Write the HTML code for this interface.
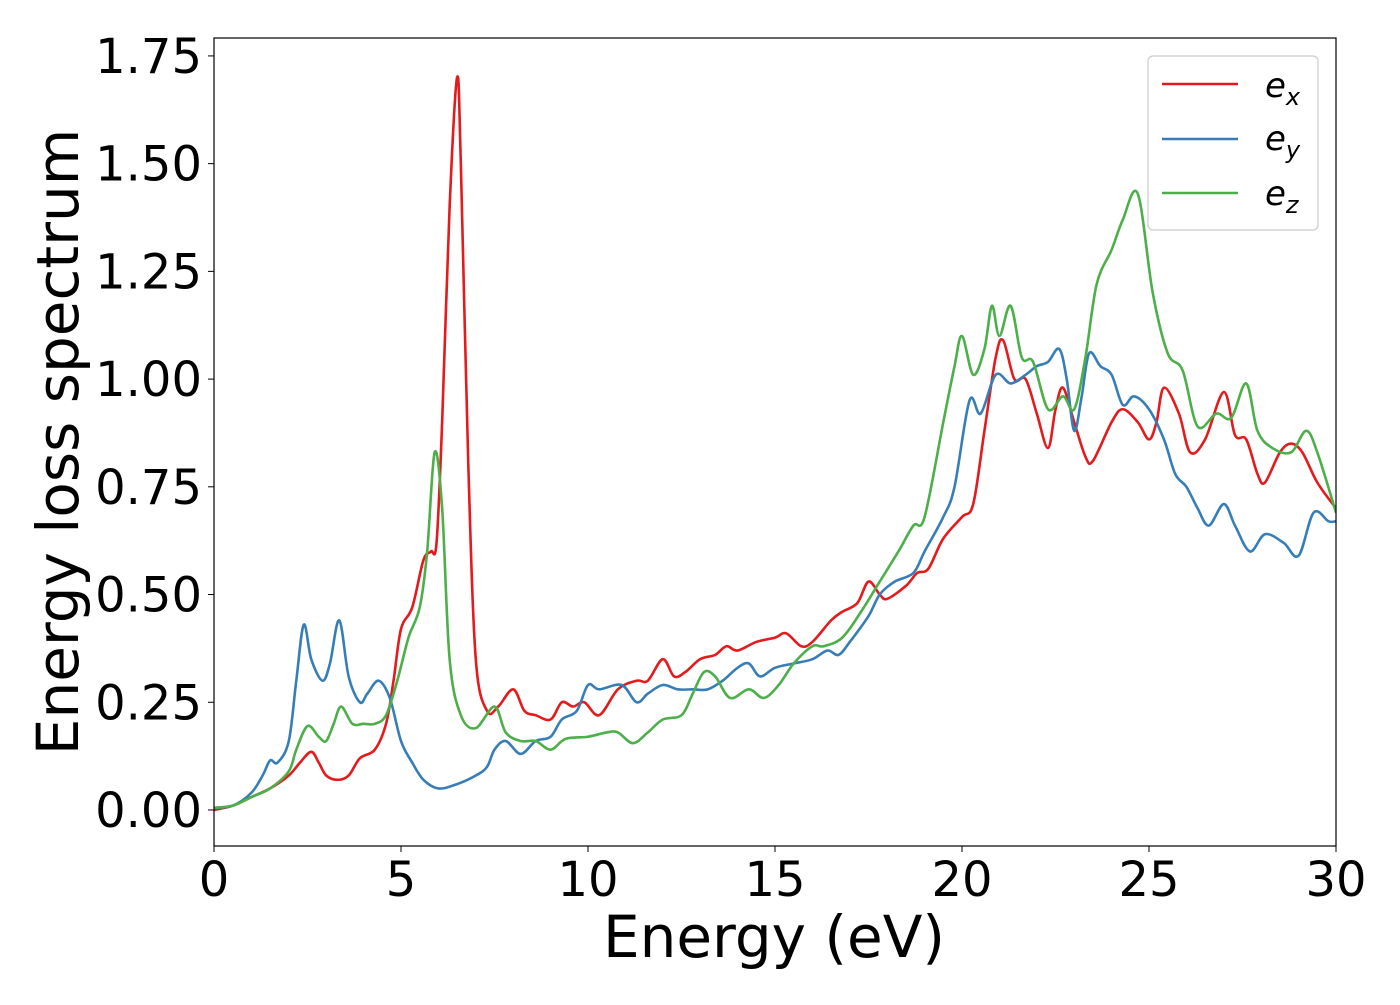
<!DOCTYPE html>
<html><head><meta charset="utf-8"><style>
body{margin:0;background:#fff;}
svg text{font-family:"DejaVu Sans","Liberation Sans",sans-serif;fill:#000;}
</style></head><body>
<svg id="chart" width="1400" height="1000" viewBox="0 0 1400 1000" xmlns="http://www.w3.org/2000/svg">
<rect x="0" y="0" width="1400" height="1000" fill="#fff"/>
<g id="plot"></g>
<g id="axes"></g>
<text x="774" y="957" font-size="58" text-anchor="middle">Energy (eV)</text>
<text transform="translate(78,442) rotate(-90)" font-size="58" text-anchor="middle">Energy loss spectrum</text>
<g>
<rect x="1148" y="56" width="170" height="174" rx="5" fill="#fff" stroke="#ccc" stroke-width="1.2"/>
<line x1="1162" y1="84" x2="1238" y2="84" stroke="#e41a1c" stroke-width="2.6"/>
<text x="1265" y="97" font-size="34" font-style="italic">e<tspan font-size="24" dy="8">x</tspan></text>
<line x1="1162" y1="139" x2="1238" y2="139" stroke="#377eb8" stroke-width="2.6"/>
<text x="1265" y="150" font-size="34" font-style="italic">e<tspan font-size="24" dy="8">y</tspan></text>
<line x1="1162" y1="193" x2="1238" y2="193" stroke="#4daf4a" stroke-width="2.6"/>
<text x="1265" y="205" font-size="34" font-style="italic">e<tspan font-size="24" dy="8">z</tspan></text>
</g>
</svg>
<script>
const exX=[0,0.5,1,1.5,2,2.3,2.6,2.8,3.0,3.3,3.6,3.9,4.3,4.6,4.8,5.0,5.3,5.6,5.8,5.95,6.1,6.3,6.5,6.6,6.8,7.0,7.3,7.6,8.0,8.3,8.6,9.0,9.3,9.6,9.9,10.3,10.8,11.3,11.6,12.0,12.3,12.6,13.0,13.4,13.7,14.0,14.5,15.0,15.3,15.7,16.0,16.5,16.8,17.2,17.5,17.8,18.0,18.5,18.8,19.1,19.5,20.0,20.3,20.6,20.9,21.1,21.4,21.7,22.0,22.3,22.5,22.7,23.0,23.3,23.5,24.0,24.3,24.7,25.0,25.2,25.4,25.8,26.1,26.5,27.0,27.3,27.6,27.9,28.1,28.5,28.8,29.1,29.5,30];
const exY=[0,0.01,0.03,0.05,0.08,0.11,0.135,0.11,0.08,0.07,0.08,0.12,0.14,0.2,0.3,0.42,0.47,0.58,0.6,0.62,0.9,1.4,1.70,1.5,0.8,0.35,0.23,0.24,0.28,0.23,0.22,0.21,0.25,0.24,0.25,0.22,0.28,0.30,0.30,0.35,0.31,0.32,0.35,0.36,0.38,0.37,0.39,0.40,0.41,0.38,0.39,0.44,0.46,0.48,0.53,0.50,0.49,0.52,0.55,0.56,0.63,0.68,0.71,0.88,1.05,1.09,1.00,1.00,0.92,0.84,0.93,0.98,0.90,0.82,0.81,0.90,0.93,0.90,0.86,0.90,0.98,0.92,0.83,0.86,0.97,0.87,0.86,0.78,0.76,0.83,0.85,0.83,0.76,0.70];
const eyX=[0,0.5,1,1.3,1.5,1.7,2.0,2.2,2.4,2.6,2.9,3.1,3.35,3.6,3.9,4.1,4.4,4.7,5.0,5.3,5.6,6.0,6.5,7.0,7.3,7.5,7.8,8.2,8.6,9.0,9.3,9.7,10.0,10.3,10.9,11.3,11.6,12.0,12.4,12.8,13.2,13.6,14.0,14.3,14.6,15.0,15.5,16.0,16.4,16.7,17.0,17.5,17.8,18.2,18.7,19.0,19.5,19.8,20.2,20.5,20.9,21.3,21.7,22.0,22.3,22.6,22.8,23.0,23.2,23.4,23.7,24.0,24.3,24.6,25.0,25.4,25.7,26.0,26.3,26.6,27.0,27.3,27.7,28.1,28.6,29.0,29.4,29.8,30];
const eyY=[0.005,0.01,0.04,0.08,0.115,0.11,0.16,0.30,0.43,0.35,0.30,0.34,0.44,0.31,0.25,0.27,0.30,0.26,0.16,0.11,0.07,0.05,0.06,0.08,0.1,0.14,0.16,0.13,0.16,0.17,0.21,0.23,0.29,0.28,0.29,0.25,0.27,0.29,0.28,0.28,0.28,0.30,0.33,0.34,0.31,0.33,0.34,0.35,0.37,0.36,0.39,0.45,0.50,0.53,0.55,0.60,0.68,0.75,0.95,0.92,1.01,0.99,1.01,1.03,1.04,1.07,1.00,0.88,0.96,1.06,1.03,1.01,0.94,0.96,0.93,0.86,0.78,0.75,0.70,0.66,0.71,0.66,0.60,0.64,0.62,0.59,0.69,0.67,0.67];
const ezX=[0,0.5,1,1.5,2,2.2,2.5,2.8,3.0,3.2,3.4,3.7,4.0,4.3,4.6,4.9,5.2,5.5,5.7,5.9,6.1,6.3,6.6,7.0,7.5,7.8,8.2,8.6,9.0,9.4,10.0,10.5,10.8,11.2,11.6,12.0,12.5,12.8,13.1,13.4,13.8,14.3,14.7,15.1,15.5,16.0,16.3,16.8,17.3,17.8,18.3,18.7,19.0,19.5,19.8,20.0,20.3,20.6,20.8,21.0,21.3,21.6,21.9,22.3,22.7,23.0,23.3,23.6,24.0,24.3,24.7,25.1,25.5,25.9,26.3,26.8,27.2,27.6,27.9,28.3,28.8,29.2,29.5,30];
const ezY=[0.005,0.01,0.03,0.05,0.09,0.14,0.195,0.17,0.16,0.20,0.24,0.20,0.20,0.20,0.22,0.30,0.40,0.47,0.6,0.83,0.70,0.35,0.22,0.19,0.24,0.18,0.16,0.16,0.14,0.165,0.17,0.18,0.18,0.155,0.18,0.21,0.22,0.27,0.32,0.31,0.26,0.28,0.26,0.29,0.34,0.38,0.38,0.40,0.46,0.53,0.60,0.66,0.68,0.90,1.03,1.10,1.01,1.07,1.17,1.10,1.17,1.05,1.04,0.93,0.96,0.93,1.05,1.22,1.30,1.37,1.43,1.20,1.06,1.02,0.89,0.92,0.91,0.99,0.88,0.84,0.83,0.88,0.83,0.69];
const xTicks=[0,5,10,15,20,25,30];
const yTicks=[0,0.25,0.5,0.75,1.0,1.25,1.5,1.75];
const yTickLabels=["0.00","0.25","0.50","0.75","1.00","1.25","1.50","1.75"];

const L=214,R=1336,T=38,B=846,xmin=0,xmax=30,ymin=-0.0836,ymax=1.7916;
const sx=v=>L+(v-xmin)/(xmax-xmin)*(R-L);
const sy=v=>B-(v-ymin)/(ymax-ymin)*(B-T);
const NS="http://www.w3.org/2000/svg";
const plot=document.getElementById('plot'),axes=document.getElementById('axes');
function pathFor(xs,ys){
  const p=xs.map((x,i)=>[sx(x),sy(ys[i])]);
  let d="M"+p[0][0]+","+p[0][1];
  for(let i=0;i<p.length-1;i++){
    const p0=p[i-1]||p[i],p1=p[i],p2=p[i+1],p3=p[i+2]||p2;
    const c1=[p1[0]+(p2[0]-p0[0])/6,p1[1]+(p2[1]-p0[1])/6];
    const c2=[p2[0]-(p3[0]-p1[0])/6,p2[1]-(p3[1]-p1[1])/6];
    d+=" C"+c1[0]+","+c1[1]+" "+c2[0]+","+c2[1]+" "+p2[0]+","+p2[1];
  }
  return d;
}
const cp=document.createElementNS(NS,'clipPath');cp.id='clip';
const cr=document.createElementNS(NS,'rect');cr.setAttribute('x',L);cr.setAttribute('y',T);cr.setAttribute('width',R-L);cr.setAttribute('height',B-T);
cp.appendChild(cr);document.getElementById('chart').appendChild(cp);
[[exX,exY,'#e41a1c','series-ex'],[eyX,eyY,'#377eb8','series-ey'],[ezX,ezY,'#4daf4a','series-ez']].forEach(s=>{
  const el=document.createElementNS(NS,'path');
  el.setAttribute('d',pathFor(s[0],s[1]));
  el.setAttribute('fill','none');el.setAttribute('stroke',s[2]);el.setAttribute('stroke-width','2.6');
  el.setAttribute('clip-path','url(#clip)');
  
  
  plot.appendChild(el);
});
const fr=document.createElementNS(NS,'rect');
fr.setAttribute('x',L);fr.setAttribute('y',T);fr.setAttribute('width',R-L);fr.setAttribute('height',B-T);
fr.setAttribute('fill','none');fr.setAttribute('stroke','#000');fr.setAttribute('stroke-width','1.2');


axes.appendChild(fr);
xTicks.forEach(v=>{
  const ln=document.createElementNS(NS,'line');
  ln.setAttribute('x1',sx(v));ln.setAttribute('x2',sx(v));ln.setAttribute('y1',B);ln.setAttribute('y2',B+6);ln.setAttribute('stroke','#000');
  
  
  axes.appendChild(ln);
  const t=document.createElementNS(NS,'text');
  t.setAttribute('x',sx(v));t.setAttribute('y',B+50);t.setAttribute('font-size','48');t.setAttribute('text-anchor','middle');
  t.textContent=v;
  
  
  axes.appendChild(t);
});
yTicks.forEach((v,i)=>{
  const ln=document.createElementNS(NS,'line');
  ln.setAttribute('x1',L-6);ln.setAttribute('x2',L);ln.setAttribute('y1',sy(v));ln.setAttribute('y2',sy(v));ln.setAttribute('stroke','#000');
  
  
  axes.appendChild(ln);
  const t=document.createElementNS(NS,'text');
  t.setAttribute('x',L-12);t.setAttribute('y',sy(v)+17);t.setAttribute('font-size','48');t.setAttribute('text-anchor','end');
  t.textContent=yTickLabels[i];
  
  
  axes.appendChild(t);
});
</script>
</body></html>
